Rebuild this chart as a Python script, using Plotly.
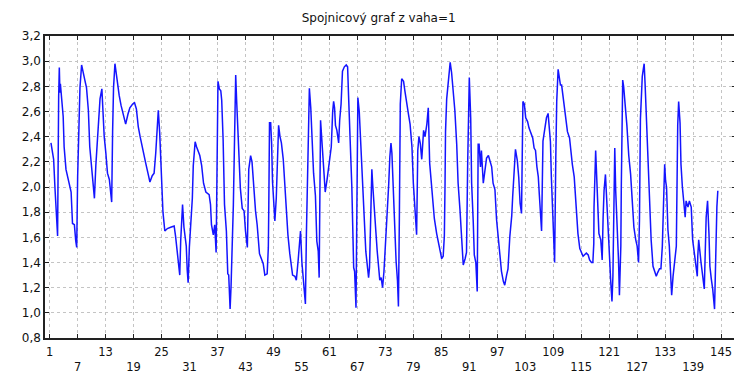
import plotly.graph_objects as go

title_text = "Spojnicový graf z vaha=1"

case_x = [
    1.28, 1.85, 2.14, 2.4, 2.7, 2.93, 3.07, 3.2, 3.3, 3.9, 4.1, 4.5, 5.2, 5.6, 5.9, 6.3, 6.6, 6.8,
    7.0, 7.2, 7.5, 7.85, 8.2, 8.6, 8.9, 9.3, 9.6, 10.2, 10.6, 10.9, 11.3, 11.8, 12.2, 12.5, 12.7,
    13.05, 13.4, 13.8, 14.3, 14.5, 14.7, 15.0, 15.3, 15.6, 15.9, 16.3, 16.8, 17.3, 17.8, 18.2,
    18.8, 19.2, 19.6, 20.0, 20.4, 20.8, 21.1, 21.6, 22.2, 22.5, 23.0, 23.4, 23.75, 24.1, 24.3,
    24.6, 24.9, 25.3, 25.7, 26.25,
    26.96, 27.7, 28.0, 28.4, 28.6, 28.9, 29.1, 29.3, 29.5, 29.8, 30.3, 30.5, 30.7, 30.96, 31.25,
    31.6, 31.8, 32.2, 32.5, 32.9, 33.2, 33.6, 34.0, 34.5, 35.2, 35.5, 35.7, 36.1, 36.4, 36.7,
    36.8, 36.95, 37.1, 37.4, 37.7, 37.9, 38.2, 38.5, 38.9, 39.2, 39.4, 39.7, 39.9, 40.4, 40.7,
    40.9, 41.1, 41.4, 41.7, 41.9, 42.3, 42.7, 43.0, 43.4, 43.7, 44.1, 44.4, 44.7, 44.9, 45.15,
    45.5, 46.0, 46.8, 47.15, 47.65, 47.9, 48.0, 48.15, 48.4, 48.6, 48.8, 49.3, 49.6, 49.9, 50.1,
    50.4, 50.7, 51.1, 51.4, 51.8, 52.1, 52.5, 52.8, 53.1, 53.6, 53.9, 54.3, 54.6, 54.8, 55.1,
    55.4, 55.85,
    56.06, 56.34, 56.56, 56.7, 57.0, 57.3, 57.6, 58.0, 58.3, 58.6, 58.8, 59.1, 59.3, 59.6, 59.8,
    60.1, 60.5, 60.8, 61.2, 61.4, 61.7, 61.9, 62.1, 62.3, 62.6, 62.98, 63.2, 63.5, 63.8, 64.2,
    64.6, 64.9, 65.1, 65.5, 65.8, 66.2, 66.4, 66.7, 66.9, 67.1, 67.4, 67.75, 68.2, 68.8, 69.1,
    69.4, 69.6, 69.8, 70.0, 70.1, 70.3, 70.7, 70.97, 71.25, 71.5, 71.8, 72.1, 72.4, 72.7, 72.96,
    73.3, 73.7, 73.96, 74.2, 74.4, 74.8, 75.0, 75.3, 75.6, 75.8, 76.0, 76.2, 76.5, 76.9, 77.2,
    77.6, 77.95, 78.3, 78.7, 79.0, 79.4, 79.7, 79.95, 80.2, 80.5, 80.8, 81.2, 81.5, 81.9, 82.2,
    82.5, 82.8, 83.1, 83.5, 84.0, 84.4, 84.7, 85.08,
    85.4, 85.65, 85.8, 85.9, 86.15, 86.4, 86.65, 86.9, 87.2, 87.6, 87.9, 88.3, 88.6, 89.0, 89.4,
    89.7, 90.1, 90.4, 90.65, 90.8, 91.0, 91.3, 91.5, 91.85, 92.07, 92.4, 92.7, 92.9, 93.1, 93.4,
    93.6, 94.0, 94.3, 94.7, 95.1, 95.4, 95.8, 96.1, 96.5, 96.85, 97.2, 97.6, 97.9, 98.3, 98.6,
    99.0, 99.3, 99.7, 100.1, 100.3, 100.6, 100.9, 101.3, 101.6, 101.9, 102.2, 102.5, 102.8,
    103.1, 103.5, 103.8, 104.2, 104.6, 104.9, 105.2, 105.5, 105.8, 106.0, 106.2, 106.5, 106.8,
    107.2, 107.55, 107.9, 108.2, 108.4, 108.6, 108.8, 109.1, 109.3, 109.55, 109.75, 110.05,
    110.3, 110.55, 110.8, 111.05, 111.3, 111.7, 112.05, 112.5, 112.75, 113.1, 113.5, 113.8,
    114.0, 114.3, 114.7, 115.04,
    115.4, 116.1, 116.5, 116.8, 117.2, 117.5, 117.7, 117.75, 117.9, 118.1, 118.25, 118.5, 118.6,
    118.8, 119.2, 119.5, 119.7, 119.9, 120.2, 120.4, 120.6, 120.9, 121.3, 121.6, 121.8, 122.0,
    122.2, 122.4, 122.7, 123.0, 123.2, 123.5, 123.6, 123.7, 123.9, 124.1, 124.3, 124.5, 124.8,
    125.2, 125.6, 125.95, 126.3, 126.7, 127.0, 127.3, 127.5, 127.7, 127.9, 128.1, 128.3, 128.5,
    128.7, 128.95, 129.3, 129.7, 130.0, 130.4, 130.7, 131.1, 131.4, 131.8, 132.1, 132.4, 132.6,
    132.7, 132.9, 133.1, 133.3, 133.6, 133.9, 134.2, 134.4, 134.7, 135.0, 135.4, 135.7, 135.9,
    136.2, 136.4, 136.7, 137.0, 137.3, 137.5, 137.9, 138.2, 138.6, 138.9, 139.3, 139.6, 139.9,
    140.0, 140.2, 140.7, 141.1, 141.4, 141.8, 142.1, 142.4, 142.6, 142.9, 143.2, 143.6, 143.8,
    144.1, 144.3,
]

vaha_y = [
    2.35, 2.22, 1.99, 1.84, 1.61, 2.72, 2.95, 2.75, 2.82, 2.56, 2.32, 2.14, 2.02, 1.96, 1.71, 1.70, 1.57, 1.52,
    2.08, 2.45, 2.79, 2.97, 2.92, 2.84, 2.79, 2.61, 2.32, 2.04, 1.91, 2.17, 2.43, 2.70, 2.78, 2.54, 2.40,
    2.27, 2.11, 2.06, 1.88, 2.44, 2.79, 2.98, 2.88, 2.79, 2.73, 2.65, 2.58, 2.50, 2.58, 2.63,
    2.66, 2.67, 2.62, 2.48, 2.40, 2.32, 2.27, 2.19, 2.09, 2.04, 2.09, 2.11, 2.27, 2.52, 2.61,
    2.43, 2.14, 1.80, 1.65, 1.67,
    1.68, 1.69, 1.61, 1.48, 1.38, 1.30, 1.57, 1.75, 1.86, 1.68, 1.53, 1.34, 1.24, 1.52, 1.73,
    1.91, 2.17, 2.36, 2.32, 2.27, 2.25, 2.17, 2.03, 1.96, 1.94, 1.86, 1.70, 1.62, 1.70, 1.48,
    1.99, 2.585, 2.84, 2.78, 2.765, 2.69, 2.38, 1.86, 1.65, 1.31, 1.30, 1.03, 1.21, 1.86, 2.38,
    2.89, 2.69, 2.38, 2.12, 1.99, 1.83, 1.81, 1.65, 1.52, 2.14, 2.25, 2.20, 2.04, 1.94, 1.81,
    1.70, 1.47, 1.39, 1.30, 1.31, 1.52, 1.86, 2.51, 2.51, 2.35, 2.04, 1.73, 1.91, 2.35, 2.49,
    2.40, 2.35, 2.22, 2.01, 1.81, 1.62, 1.47, 1.38, 1.30, 1.29, 1.26, 1.42, 1.57, 1.65, 1.40,
    1.25, 1.07,
    1.62, 2.01, 2.53, 2.785, 2.63, 2.37, 2.11, 1.93, 1.57, 1.49, 1.28, 2.53, 2.42, 2.27, 2.09,
    1.96, 2.06, 2.16, 2.27, 2.32, 2.60, 2.68, 2.63, 2.49, 2.45, 2.35, 2.53, 2.66, 2.92, 2.955,
    2.97, 2.955, 2.73, 2.35, 2.01, 1.36, 1.33, 1.04, 2.01, 2.71, 2.60, 2.29, 1.88, 1.49, 1.385,
    1.28, 1.36, 1.67, 2.01, 2.14, 2.01, 1.83, 1.64, 1.49, 1.385, 1.26, 1.28, 1.20, 1.33, 1.49,
    1.75, 2.01, 2.24, 2.35, 2.27, 1.85, 1.62, 1.41, 1.255, 1.05, 1.75, 2.66, 2.86, 2.84, 2.76,
    2.68, 2.58, 2.50, 2.32, 2.03, 1.77, 1.62, 2.29, 2.40, 2.345, 2.22, 2.45, 2.40, 2.50, 2.63,
    2.19, 2.06, 1.93, 1.75, 1.63, 1.55, 1.49, 1.43,
    1.45, 1.61, 2.03, 2.44, 2.70, 2.80, 2.935, 2.99, 2.91, 2.75, 2.61, 2.34, 2.03, 1.82, 1.56,
    1.38, 1.43, 1.48, 2.18, 2.65, 2.87, 2.55, 2.03, 1.72, 1.46, 1.40, 1.17, 2.34, 2.34, 2.16,
    2.29, 2.03, 2.13, 2.23, 2.25, 2.21, 2.16, 2.03, 1.98, 1.74, 1.61, 1.46, 1.33, 1.25, 1.22,
    1.30, 1.35, 1.61, 1.77, 1.92, 2.08, 2.30, 2.21, 2.08, 1.87, 1.79, 2.68, 2.66,
    2.55, 2.52, 2.47, 2.42, 2.39, 2.31, 2.29, 2.16, 2.08, 1.95, 1.79, 1.65, 2.365,
    2.49, 2.55, 2.585, 2.39, 2.36, 2.08, 1.90, 1.59, 1.40, 2.23, 2.68, 2.935,
    2.86, 2.81, 2.81, 2.74, 2.65, 2.55, 2.44, 2.39, 2.29, 2.18, 2.08, 1.90,
    1.77, 1.63, 1.51, 1.48,
    1.45, 1.475, 1.46, 1.42, 1.40, 1.40, 1.55, 1.84, 2.15, 2.29, 2.15, 1.92, 1.84,
    1.63, 1.58, 1.42, 1.76, 1.97, 2.10, 1.92, 1.79, 1.58, 1.27, 1.09, 1.29, 2.10,
    2.31, 1.97, 1.73, 1.42, 1.14, 1.53, 2.00, 2.565, 2.85, 2.80, 2.72, 2.64, 2.49,
    2.25, 2.10, 1.89, 1.68, 1.58, 1.53, 1.40, 1.74, 2.54, 2.80, 2.88, 2.93, 2.98,
    2.82, 2.565, 2.18, 1.79, 1.58, 1.37, 1.33, 1.29, 1.32, 1.35, 1.35, 1.53, 1.79,
    2.05, 2.18, 2.05, 2.00, 1.66, 1.53, 1.29, 1.14, 1.29, 1.42, 1.53, 2.49, 2.68,
    2.51, 2.18, 2.00, 1.89, 1.76, 1.89, 1.84, 1.89, 1.84, 1.58, 1.475, 1.37, 1.29,
    1.45, 1.58, 1.40, 1.27, 1.19, 1.76, 1.89, 1.63, 1.37, 1.27, 1.19, 1.03, 1.50,
    1.84, 1.97,
]

x_tick_values = [1, 7, 13, 19, 25, 31, 37, 43, 49, 55, 61, 67, 73, 79, 85, 91, 97, 103,
                 109, 115, 121, 127, 133, 139, 145]
x_tick_labels = ["1", "7", "13", "19", "25", "31", "37", "43", "49", "55", "61", "67", "73",
                 "79", "85", "91", "97", "103", "109", "115", "121", "127", "133", "139", "145"]
y_tick_values = [0.8, 1.0, 1.2, 1.4, 1.6, 1.8, 2.0, 2.2, 2.4, 2.6, 2.8, 3.0, 3.2]

# alternate tick labels between two rows
staggered = [lab if i % 2 == 0 else "<br>" + lab for i, lab in enumerate(x_tick_labels)]

font_family = "DejaVu Sans, Arial, sans-serif"

# the page body adds an 8px margin, so the figure is sized to fit beside it
W, H = 734, 370

fig = go.Figure()
fig.add_trace(go.Scatter(
    x=case_x, y=vaha_y, mode="lines",
    line=dict(color="#1414ff", width=1.5),
    showlegend=False, hoverinfo="skip",
))

fig.update_layout(
    width=W, height=H,
    margin=dict(l=37, r=4, t=28, b=32),
    paper_bgcolor="white", plot_bgcolor="white",
    separators=",.",
    title=dict(text=title_text, x=0.505, xanchor="center", y=1 - 10 / H, yanchor="middle",
               font=dict(family=font_family, size=12, color="#111")),
    font=dict(family=font_family, size=12, color="#111"),
)
fig.update_xaxes(
    range=[0.0, 148.2], tickmode="array", tickvals=x_tick_values, ticktext=staggered,
    showgrid=True, gridcolor="#c4c4c4", griddash="dot", gridwidth=1,
    showline=True, linecolor="#222", linewidth=1.5, mirror="ticks",
    ticks="inside", ticklen=4, tickcolor="#222", zeroline=False,
    tickfont=dict(size=11.5), ticklabelstandoff=2,
)
fig.update_yaxes(
    range=[0.8, 3.2], tickmode="array", tickvals=y_tick_values, tickformat=".1f",
    showgrid=True, gridcolor="#c4c4c4", griddash="dot", gridwidth=1,
    showline=True, linecolor="#222", linewidth=1.5, mirror="ticks",
    ticks="inside", ticklen=4, tickcolor="#222", zeroline=False,
    tickfont=dict(size=12),
)

fig.write_html("out.html")
